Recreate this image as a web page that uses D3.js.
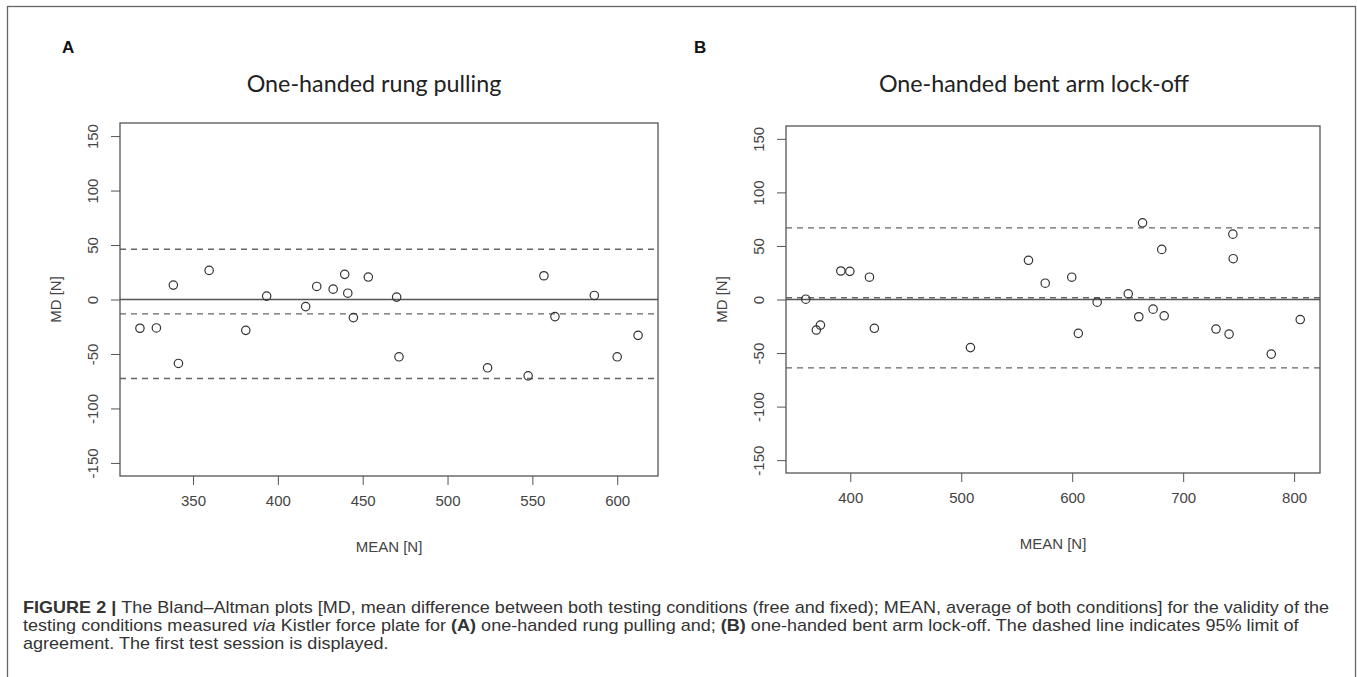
<!DOCTYPE html>
<html>
<head>
<meta charset="utf-8">
<script src="https://cdnjs.cloudflare.com/ajax/libs/d3/7.8.5/d3.min.js"></script>
<style>
  body { margin: 0; background: #fff; }
  svg { display: block; }
  .tick line { stroke: #555; }
  .tick text { font-family: "Liberation Sans", Arial, sans-serif; font-size: 15px; fill: #444; }
  .axlabel { font-family: "Liberation Sans", Arial, sans-serif; font-size: 15px; fill: #444; }
  .title { font-family: Lato, "Open Sans", sans-serif; font-size: 23.3px; fill: #222; }
  .panel { font-family: "Liberation Sans", Arial, sans-serif; font-size: 17px; font-weight: bold; fill: #111; }
  .caption { font-family: "Liberation Sans", Arial, sans-serif; font-size: 17px; fill: #333; }
</style>
</head>
<body>
<svg id="chart"></svg>
<script>
// Panel A: one-handed rung pulling
var meanA = [318.7, 328.4, 338.4, 341.4, 359.5, 381.1, 393.4, 416.4, 422.9, 432.6, 439.4, 441.2,
             444.5, 453.3, 470.0, 471.4, 523.6, 547.5, 556.8, 563.3, 586.5, 600.0, 612.3];
var mdA   = [-26.4, -26.1, 13.2, -58.7, 26.7, -28.3, 3.1, -6.5, 12.0, 9.5, 23.1, 5.8,
             -16.6, 20.6, 2.2, -52.6, -62.7, -70.1, 21.8, -15.7, 3.7, -52.6, -32.9];
var limitsA = [46.1, -13.2, -72.5];
var xTicksA = [350, 400, 450, 500, 550, 600];

// Panel B: one-handed bent arm lock-off
var meanB = [359.9, 369.4, 373.1, 391.5, 399.6, 417.3, 421.7, 508.3, 560.6, 575.7, 599.6, 605.5, 622.5,
             650.5, 660.0, 663.4, 672.9, 680.7, 682.9, 729.6, 741.4, 744.8, 745.1, 779.4, 805.5];
var mdB   = [0.3, -28.5, -23.9, 26.6, 26.3, 20.8, -26.9, -44.9, 36.6, 15.2, 20.8, -31.6, -2.5,
             5.3, -16.1, 71.6, -9.0, 46.8, -15.2, -27.6, -32.3, 61.0, 38.1, -51.0, -18.7];
var limitsB = [66.9, 1.6, -63.8];
var xTicksB = [400, 500, 600, 700, 800];

var yTicks = [-150, -100, -50, 0, 50, 100, 150];
var zeroLine = [0];

var width = 1357, height = 677;

var svg = d3.select("#chart")
  .attr("width", width)
  .attr("height", height);

// figure border
svg.append("rect")
  .attr("x", 7.5).attr("y", 6.5)
  .attr("width", 1348).attr("height", 700)
  .attr("fill", "none")
  .attr("stroke", "#666")
  .attr("stroke-width", 1.3);

// R prints a plain hyphen for negatives
function plain(d){ return String(d); }

function drawPanel(opt)
{
  var b = opt.box;
  // R style: data range padded by 4%
  var ext = d3.extent(opt.x);
  var pad = (ext[1] - ext[0]) * 0.04;
  var xscale = d3.scaleLinear()
    .domain([ext[0] - pad, ext[1] + pad])
    .range([b.left, b.right]);
  var yscale = d3.scaleLinear()
    .domain([-162, 162])
    .range([b.bottom, b.top]);

  var g = svg.append("g");

  // panel letter + title
  g.append("text").attr("class", "panel")
    .attr("x", opt.letterX).attr("y", 53)
    .text(opt.letter);
  g.append("text").attr("class", "title")
    .attr("x", opt.titleX).attr("y", 92)
    .attr("text-anchor", "middle")
    .text(opt.title);

  // x axis
  g.append("g")
    .attr("transform", "translate(0," + b.bottom + ")")
    .call(d3.axisBottom(xscale).tickValues(opt.xTicks).tickSize(9).tickPadding(10).tickFormat(plain))
    .call(function(a){ a.select(".domain").remove(); });

  // y axis, labels turned like R's las=0
  var ya = g.append("g")
    .attr("transform", "translate(" + b.left + ",0)")
    .call(d3.axisLeft(yscale).tickValues(yTicks).tickSize(9).tickFormat(plain))
    .call(function(a){ a.select(".domain").remove(); });
  ya.selectAll(".tick text")
    .attr("transform", "rotate(-90)")
    .attr("x", 0).attr("y", -27).attr("dy", "0.35em")
    .attr("text-anchor", "middle");

  // axis titles
  g.append("text").attr("class", "axlabel")
    .attr("x", (b.left + b.right) / 2).attr("y", b.bottom + 76)
    .attr("text-anchor", "middle")
    .text("MEAN [N]");
  g.append("text").attr("class", "axlabel")
    .attr("transform", "translate(" + (b.left - 64) + "," + ((b.top + b.bottom) / 2) + ") rotate(-90)")
    .attr("dy", "0.35em")
    .attr("text-anchor", "middle")
    .text("MD [N]");

  // zero line
  g.selectAll(".zero").data(zeroLine).enter().append("line")
    .attr("x1", b.left).attr("x2", b.right)
    .attr("y1", function(d){ return yscale(d); })
    .attr("y2", function(d){ return yscale(d); })
    .attr("stroke", "#555").attr("stroke-width", 1.3);

  // mean difference + limits of agreement
  g.selectAll(".loa").data(opt.limits).enter().append("line")
    .attr("x1", b.left).attr("x2", b.right)
    .attr("y1", function(d){ return yscale(d); })
    .attr("y2", function(d){ return yscale(d); })
    .attr("stroke", "#666").attr("stroke-width", 1.4)
    .attr("stroke-dasharray", "6,5");

  // points
  g.selectAll("circle").data(opt.x).enter().append("circle")
    .attr("cx", function(d){ return xscale(d); })
    .attr("cy", function(d, i){ return yscale(opt.y[i]); })
    .attr("r", 4.2)
    .attr("fill", "none")
    .attr("stroke", "#333")
    .attr("stroke-width", 1.2);

  // frame
  g.append("rect")
    .attr("x", b.left).attr("y", b.top)
    .attr("width", b.right - b.left).attr("height", b.bottom - b.top)
    .attr("fill", "none")
    .attr("stroke", "#555").attr("stroke-width", 1.3);
}

drawPanel({
  letter: "A", letterX: 62, title: "One-handed rung pulling", titleX: 374,
  box: { left: 120, right: 658, top: 123, bottom: 476 },
  x: meanA, y: mdA, limits: limitsA, xTicks: xTicksA
});

drawPanel({
  letter: "B", letterX: 694, title: "One-handed bent arm lock-off", titleX: 1034,
  box: { left: 786, right: 1320, top: 126, bottom: 473 },
  x: meanB, y: mdB, limits: limitsB, xTicks: xTicksB
});

// caption
var captionLines = [
  [["b", "FIGURE 2 | "], ["n", "The Bland\u2013Altman plots [MD, mean difference between both testing conditions (free and fixed); MEAN, average of both conditions] for the validity of the"]],
  [["n", "testing conditions measured "], ["i", "via"], ["n", " Kistler force plate for "], ["b", "(A)"], ["n", " one-handed rung pulling and; "], ["b", "(B)"], ["n", " one-handed bent arm lock-off. The dashed line indicates 95% limit of"]],
  [["n", "agreement. The first test session is displayed."]]
];
var captionY = [613, 631, 649];

var capTexts = captionLines.map(function(line, i){
  var t = svg.append("text").attr("class", "caption")
    .attr("x", 23).attr("y", captionY[i]);
  line.forEach(function(s){
    t.append("tspan")
      .attr("font-weight", s[0] == "b" ? "bold" : null)
      .attr("font-style", s[0] == "i" ? "italic" : null)
      .text(s[1]);
  });
  return t;
});
// the caption font is condensed: squeeze every line by the same factor
var squeeze = 1306 / capTexts[0].node().getComputedTextLength();
capTexts.forEach(function(t){
  var w = t.node().getComputedTextLength();
  t.attr("textLength", w * squeeze).attr("lengthAdjust", "spacingAndGlyphs");
});
</script>
</body>
</html>
